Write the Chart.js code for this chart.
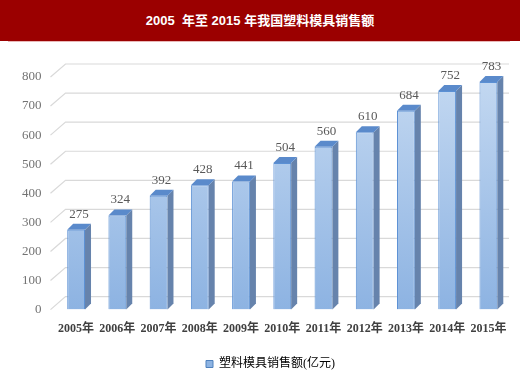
<!DOCTYPE html>
<html>
<head>
<meta charset="utf-8">
<script src="https://cdn.jsdelivr.net/npm/chart.js@4"></script>
<style>
  body { margin: 0; background: #fff; width: 520px; height: 386px; overflow: hidden; }
  #title {
    height: 41px; background: #9b0000; color: #fff;
    font: bold 13px 'Liberation Sans', 'Noto Sans CJK SC', sans-serif;
    text-align: center; line-height: 41px; white-space: pre;
  }
  #shade { height: 1px; margin: 0 10px 0 8px; background: #e9b8b8; }
  #wrap { position: relative; width: 520px; height: 344px; }
</style>
</head>
<body>
<div id="title">2005  年至 2015 年我国塑料模具销售额</div>
<div id="shade"></div>
<div id="wrap"><canvas id="chart"></canvas></div>
<script>
// data
const years = ['2005年', '2006年', '2007年', '2008年', '2009年', '2010年', '2011年', '2012年', '2013年', '2014年', '2015年'];
const sales = [275, 324, 392, 428, 441, 504, 560, 610, 684, 752, 783];
const seriesName = '塑料模具销售额(亿元)';
const yTicks = [0, 100, 200, 300, 400, 500, 600, 700, 800];

const SERIF = "'Liberation Serif', 'Noto Sans CJK SC', serif";
const DEPTH = 6;      // bar side/top depth
const WALL_X = 15, WALL_Y = 13;   // back wall offset

// 3d-ish grid: diagonal from front edge then horizontal on back wall
const wallGrid = {
    id: 'wallGrid',
    beforeDatasetsDraw(chart) {
        const { ctx, chartArea, scales } = chart;
        ctx.save();
        ctx.strokeStyle = '#d9d9d9';
        ctx.lineWidth = 1.2;
        yTicks.forEach(v => {
            const py = scales.y.getPixelForValue(v);
            ctx.beginPath();
            ctx.moveTo(chartArea.left - 5, py);
            ctx.lineTo(chartArea.left - 5 + WALL_X, py - WALL_Y);
            ctx.lineTo(chartArea.right, py - WALL_Y);
            ctx.stroke();
        });
        ctx.restore();
    }
};

// side + top faces of the bars, and value labels
const bar3d = {
    id: 'bar3d',
    afterDatasetsDraw(chart) {
        const { ctx } = chart;
        const meta = chart.getDatasetMeta(0);
        ctx.save();
        meta.data.forEach((bar, i) => {
            const { x, y, base, width } = bar.getProps(['x', 'y', 'base', 'width'], true);
            const l = x - width / 2, r = x + width / 2;
            ctx.fillStyle = '#6683ac';
            ctx.beginPath();
            ctx.moveTo(r, y); ctx.lineTo(r + DEPTH, y - DEPTH);
            ctx.lineTo(r + DEPTH, base - DEPTH); ctx.lineTo(r, base);
            ctx.closePath(); ctx.fill();
            ctx.fillStyle = '#5a8acb';
            ctx.beginPath();
            ctx.moveTo(l, y); ctx.lineTo(l + DEPTH, y - DEPTH);
            ctx.lineTo(r + DEPTH, y - DEPTH); ctx.lineTo(r, y);
            ctx.closePath(); ctx.fill();

            ctx.fillStyle = '#595959';
            ctx.font = '13px ' + SERIF;
            ctx.textAlign = 'center';
            ctx.textBaseline = 'bottom';
            ctx.fillText(sales[i], x + DEPTH / 2, y - DEPTH - 3);
        });
        ctx.restore();
    }
};

// legend sits a bit right of centre in the original
const legendShift = {
    id: 'legendShift',
    afterLayout(chart) {
        chart.legend.left += 12;
        chart.legend.right += 12;
    }
};

const ctx = document.getElementById('chart').getContext('2d');
new Chart(ctx, {
    type: 'bar',
    data: {
        labels: years,
        datasets: [{
            label: seriesName,
            data: sales,
            backgroundColor: (c) => {
                const area = c.chart.chartArea;
                if (!area) return '#9dc3e6';
                const g = c.chart.ctx.createLinearGradient(0, area.top, 0, area.bottom);
                g.addColorStop(0, '#c3d8f1');
                g.addColorStop(1, '#8db3e2');
                return g;
            },
            borderColor: '#5b90d4',
            borderWidth: 1,
            categoryPercentage: 0.9,
            barPercentage: 0.48
        }]
    },
    options: {
        responsive: true,
        maintainAspectRatio: false,
        animation: false,
        layout: { padding: { left: 8, right: 11, top: 35, bottom: 6 } },
        scales: {
            x: {
                grid: { display: false, drawTicks: false },
                border: { display: false },
                ticks: { color: '#404040', padding: 12, maxRotation: 0, autoSkip: false,
                         font: { size: 12, weight: 'bold', family: SERIF } }
            },
            y: {
                min: 0, max: 800,
                grid: { display: false, drawTicks: false },
                border: { display: false },
                ticks: { stepSize: 100, color: '#737373', padding: 14, font: { size: 13, family: SERIF } }
            }
        },
        plugins: {
            legend: {
                position: 'bottom',
                labels: {
                    boxWidth: 7, boxHeight: 7, padding: 10,
                    color: '#595959',
                    font: { size: 12, family: SERIF },
                    generateLabels: (chart) => [{
                        text: seriesName, fillStyle: '#8db3e2', strokeStyle: '#4f81bd',
                        lineWidth: 1, datasetIndex: 0
                    }]
                }
            },
            tooltip: { enabled: false }
        }
    },
    plugins: [wallGrid, bar3d, legendShift]
});
</script>
</body>
</html>
